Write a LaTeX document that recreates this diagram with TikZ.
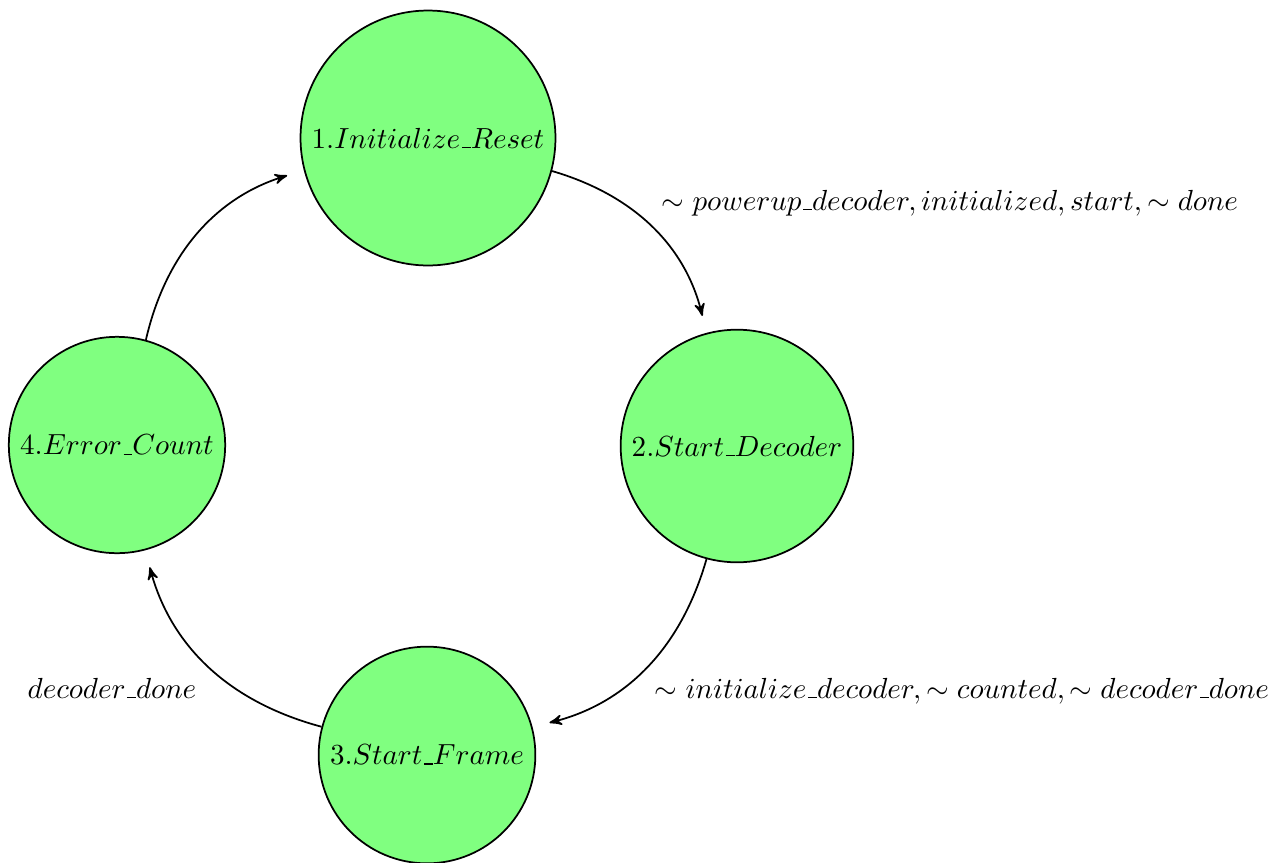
\documentclass[tikz,border=0pt]{standalone}
\usetikzlibrary{arrows}
\newcommand{\us}{\mbox{\kern.06em\vbox{\hrule width.3em}}}
\begin{document}
\begin{tikzpicture}[x=0.344pt,y=-0.344pt,semithick,
  state/.style={circle,draw,fill=green!50},
  trans/.style={->,>=stealth',shorten >=6pt},
  lbl/.style={inner sep=0pt}]
\useasboundingbox (0,0) rectangle (1287,863);
\node[state] (s1) at (428,138) {1.$Initialize\us Reset$};
\node[state] (s2) at (737,446) {2.$Start\us Decoder$};
\node[state] (s3) at (427,755) {3.$Start\us Frame$};
\node[state] (s4) at (117,445) {4.$Error\us Count$};
\draw[trans] (s1) to[bend left=30] (s2);
\draw[trans] (s2) to[bend left=30] (s3);
\draw[trans] (s3) to[bend left=30] (s4);
\draw[trans] (s4) to[bend left=30] (s1);
\node[lbl] (l12) at (950,203) {$\sim powerup\us decoder, initialized, start, \sim done$};
\node[lbl] (l23) at (962,691) {$\sim initialize\us decoder, \sim counted, \sim decoder\us done$};
\node[lbl] (l34) at (112,688) {$decoder\us done$};
\end{tikzpicture}
\end{document}
